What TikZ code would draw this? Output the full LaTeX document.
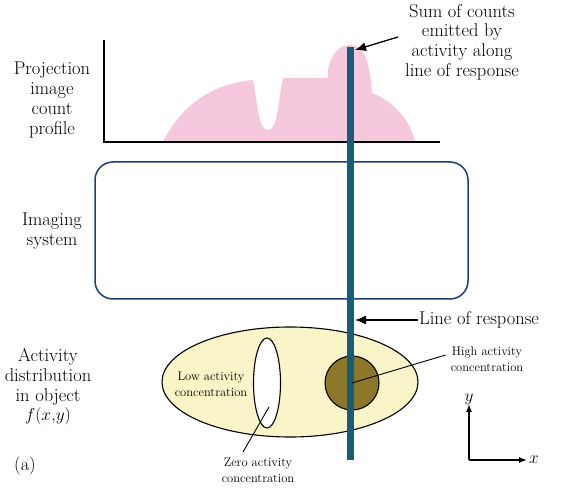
\documentclass[tikz,border=0pt]{standalone}
\usetikzlibrary{positioning,calc,arrows.meta,shapes.geometric}
\definecolor{lorblue}{RGB}{24,92,122}
\definecolor{sysblue}{RGB}{30,60,125}
\definecolor{profpink}{RGB}{246,200,222}
\definecolor{objyellow}{RGB}{250,245,200}
\definecolor{hotolive}{RGB}{140,120,40}
\tikzset{
	lbl/.style={align=center, inner sep=1pt, font=\fontsize{18.5}{19.7}\selectfont},
	small/.style={align=center, inner sep=1pt, font=\fontsize{12.5}{16}\selectfont},
	pointer/.style={-{Latex[length=11pt,width=9pt]}, line width=1.3pt},
	leader/.style={line width=0.9pt}
}

\begin{document}
\begin{tikzpicture}[x=1pt, y=-1pt]
	\useasboundingbox (0,0) rectangle (573,502);

	% count profile
	\fill [profpink] (163,142) .. controls (185,98) and (220,83) .. (253,80)
		.. controls (258,105) and (258,130) .. (268,130)
		.. controls (278,130) and (278,100) .. (283,78) -- (328,78) -- (328,70)
		.. controls (332,52) and (340,45) .. (350,45)
		.. controls (364,45) and (370,62) .. (372,93)
		.. controls (395,102) and (411,122) .. (415,142) -- cycle;
	\coordinate (ytop) at (104,40);
	\coordinate (orig) at (104,142);
	\coordinate (xend) at (440,142);
	\draw [line width=1.3pt] (ytop) -- (orig) -- (xend);

	% imaging system
	\node (imgsys) [draw=sysblue, line width=1.5pt, rounded corners=18pt, minimum width=373pt, minimum height=137pt] at (281.5,230.5) {};

	% object
	\node (obj) [draw, line width=1.1pt, fill=objyellow, ellipse, minimum width=256pt, minimum height=110pt, inner sep=0pt] at (290,382) {};
	\node (zero) [draw, line width=1.1pt, fill=white, ellipse, minimum width=27pt, minimum height=90pt, inner sep=0pt] at (267,383) {};
	\node (hot) [draw, line width=1.1pt, fill=hotolive, circle, minimum size=54pt, inner sep=0pt] at (352,383) {};

	% line of response
	\coordinate (lora) at (350.5,47);
	\coordinate (lorb) at (350.5,460);
	\draw [lorblue, line width=7pt] (lora) -- (lorb);

	% left labels
	\node (proj) [lbl] at (52,100) {Projection\\image\\count\\profile};
	\node (sys) [lbl] at (52,231) {Imaging\\system};
	\node (dist) [lbl] at (48,387) {Activity\\distribution\\in object\\$f(x{,}y)$};
	\node (pan) [lbl] at (25,466) {(a)};

	% right labels
	\node (sum) [lbl] at (462,42) {Sum of counts\\emitted by\\activity along\\line of response};
	\node (lor) [lbl, anchor=west] at (418,320) {Line of response};
	\coordinate (sumtip) at (355,50);
	\coordinate (lortip) at (355,320);
	\draw [pointer] (398,37) -- (sumtip);
	\draw [pointer] (lor.west) -- (lortip);

	% object labels
	\node (low) [small] at (211,384) {Low activity\\concentration};
	\node (high) [small] at (487,359) {High activity\\concentration};
	\node (zlab) [small] at (258,470) {Zero activity\\concentration};
	\draw [leader] (high.west) ++(-4pt,4pt) -- (hot.center);
	\draw [leader] (243,452) -- (269,407);

	% axes
	\coordinate (ax0) at (469,460);
	\coordinate (axy) at (469,404);
	\coordinate (axx) at (527,460);
	\draw [-{Latex[length=8pt,width=6pt]}, line width=1.2pt] (ax0) -- (axy);
	\draw [-{Latex[length=8pt,width=6pt]}, line width=1.2pt] (ax0) -- (axx);
	\node (ylab) [lbl, above=-2pt of axy] {$y$};
	\node (xlab) [lbl, right=1pt of axx] {$x$};
\end{tikzpicture}
\end{document}
